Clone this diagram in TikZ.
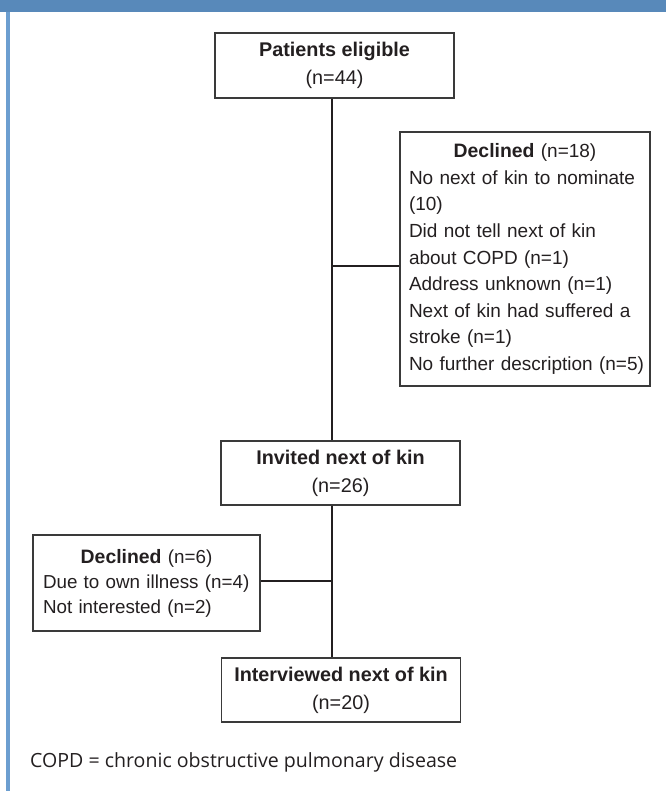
\documentclass[tikz,border=0pt]{standalone}
\usepackage{fontspec}
\setmainfont{Liberation Sans}
\newfontfamily\notefont{Open Sans}
\definecolor{bandblue}{HTML}{5889BA}
\definecolor{edgeblue}{HTML}{6C9ED0}
\definecolor{boxgray}{HTML}{3A3A3A}
\definecolor{inkc}{HTML}{231F20}
\newcommand{\boxline}[1]{\mbox{#1}}
\begin{document}
\begin{tikzpicture}[x=1pt,y=-1pt,
  box/.style={draw=boxgray, line width=1.3pt, inner xsep=10pt, inner ysep=0pt,
    text=inkc, align=center, font=\fontsize{19.8}{28}\selectfont},
  listbox/.style={box, align=left},
  conn/.style={draw=inkc, line width=2.3pt}]
\useasboundingbox (0,0) rectangle (666,791);
\fill[bandblue] (0,0) rectangle (666,12);
\fill[edgeblue] (6,12) rectangle (10,791);
\coordinate (spine) at (332,0);

\node[box, minimum width=239pt, minimum height=65pt] (pat) at (334.5,65.5)
  {\textbf{Patients eligible}\\(n=44)};

\node[listbox, inner xsep=9pt, text width=232pt, minimum height=254pt,
  font=\fontsize{19}{26.6}\selectfont] (dec1) at (525,259)
  {\makebox[\linewidth]{{\fontsize{19.4}{26.6}\selectfont\textbf{Declined}} (n=18)}\\
   \boxline{No next of kin to nominate}\\
   \boxline{(10)}\\
   \boxline{Did not tell next of kin}\\
   \boxline{about COPD (n=1)}\\
   \boxline{Address unknown (n=1)}\\
   \boxline{Next of kin had suffered a}\\
   \boxline{stroke (n=1)}\\
   \boxline{No further description (n=5)}};

\node[box, minimum width=239pt, minimum height=64pt] (inv) at (340.5,473)
  {\textbf{Invited next of kin}\\(n=26)};

\node[listbox, text width=207pt, minimum height=96pt,
  font=\fontsize{18.8}{25}\selectfont] (dec2) at (146.5,583)
  {\makebox[\linewidth]{{\fontsize{19.4}{25}\selectfont\textbf{Declined}} (n=6)}\\
   \boxline{Due to own illness (n=4)}\\
   \boxline{Not interested (n=2)}};

\node[box, minimum width=239pt, minimum height=64pt] (intv) at (341,690)
  {\textbf{Interviewed next of kin}\\(n=20)};

\coordinate (j1) at (332,266);
\coordinate (j2) at (332,581);
\draw[conn] (pat.south -| spine) -- (inv.north -| spine);
\draw[conn] (inv.south -| spine) -- (intv.north -| spine);
\draw[conn] (j1) -- (j1 -| dec1.west);
\draw[conn] (j2) -- (j2 -| dec2.east);

\node[anchor=west, inner sep=0pt, text=inkc] (note) at (30,762)
  {\resizebox{427pt}{!}{\notefont COPD = chronic obstructive pulmonary disease}};
\end{tikzpicture}
\end{document}
